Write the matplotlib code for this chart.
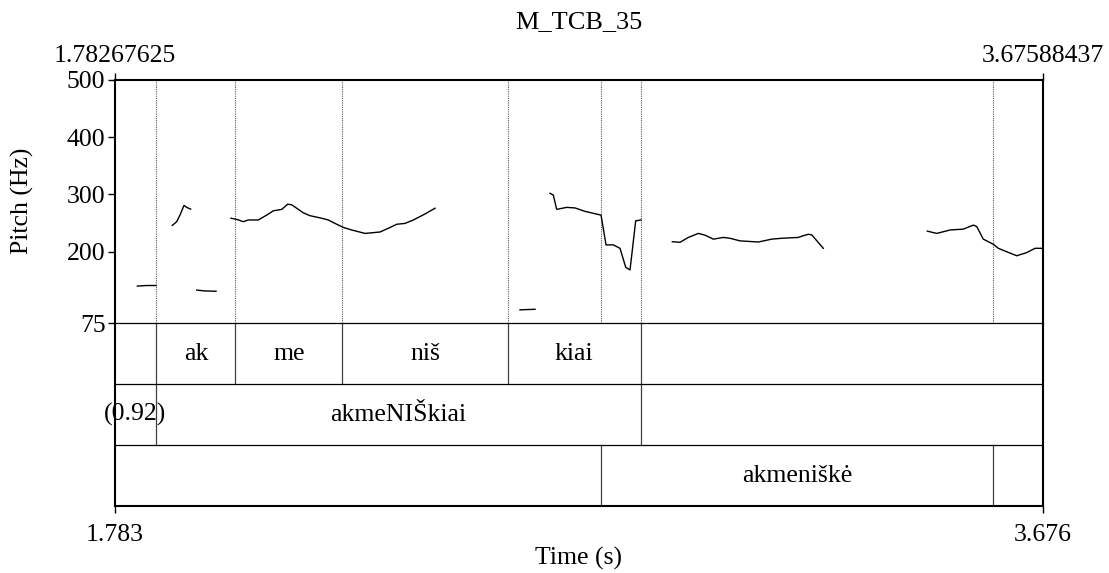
import numpy as np
import matplotlib
matplotlib.use("Agg")
import matplotlib.pyplot as plt

plt.rcParams['font.family'] = ['Liberation Serif', 'DejaVu Serif']

# ---- data -------------------------------------------------------------
title = "M_TCB_35"
T_START = 1.78267625
T_END = 3.67588437
PITCH_MIN, PITCH_MAX = 75, 500
pitch_ticks = [75, 200, 300, 400, 500]
top_tick_labels = ["1.78267625", "3.67588437"]
bottom_tick_labels = ["1.783", "3.676"]

# pitch contour (s, Hz), one list per voiced stretch
seg1_t = [1.8292, 1.8480, 1.8673]
seg1_hz = [140, 141, 141]

seg2_t = [1.9005, 1.9095, 1.9162, 1.9244, 1.9299, 1.9380]
seg2_hz = [246, 252.5, 264, 281, 277.5, 274.5]

seg3_t = [1.9503, 1.9672, 1.9897]
seg3_hz = [133, 131.5, 131]

seg4_t = [2.0202, 2.0319, 2.0453, 2.0555, 2.0759, 2.0930, 2.1065, 2.1236,
          2.1359, 2.1440, 2.1542, 2.1677, 2.1813, 2.2052, 2.2186, 2.2323,
          2.2492, 2.2664, 2.2935, 2.3241, 2.3410, 2.3581, 2.3750, 2.3920,
          2.4158, 2.4362]
seg4_hz = [258.5, 256.5, 252.5, 255.5, 255.5, 264, 271.5, 274, 283, 282,
           276, 268, 263, 258.5, 255.5, 249.5, 242.5, 238, 232, 234.5, 241,
           248, 249.5, 255.5, 266, 276]

seg5_t = [2.6095, 2.6401]
seg5_hz = [98.5, 99.5]

seg6_t = [2.6707, 2.6774, 2.6843, 2.7047, 2.7217, 2.7421, 2.7747, 2.7849,
          2.7997, 2.8134, 2.8250, 2.8338, 2.8454, 2.8562]
seg6_hz = [302, 299, 274, 277.5, 276.5, 270.5, 264, 212, 212, 206, 173,
           168, 254, 255.5]

seg7_t = [2.9201, 2.9358, 2.9527, 2.9731, 2.9867, 3.0037, 3.0240, 3.0377,
          3.0581, 3.0954, 3.1227, 3.1431, 3.1770, 3.1872, 3.1974, 3.2043,
          3.2279]
seg7_hz = [217.5, 216.5, 225, 232, 229, 222, 225, 223.5, 219, 217, 222,
           223.5, 225, 228, 230.5, 229.5, 206]

seg8_t = [3.4400, 3.4592, 3.4863, 3.5134, 3.5338, 3.5407, 3.5542, 3.5746,
          3.5848, 3.6019, 3.6223, 3.6427, 3.6596, 3.6733]
seg8_hz = [236, 232, 238, 239.5, 246.5, 244, 222, 213, 206, 200, 193,
           198.5, 206, 206]

segments_t = [seg1_t, seg2_t, seg3_t, seg4_t, seg5_t, seg6_t, seg7_t, seg8_t]
segments_hz = [seg1_hz, seg2_hz, seg3_hz, seg4_hz, seg5_hz, seg6_hz,
               seg7_hz, seg8_hz]

# annotation tiers: interval boundaries and labels
tier1_bounds = [1.8677, 2.0293, 2.2473, 2.5844, 2.8560]
tier1_labels = ["", "ak", "me", "niš", "kiai", ""]
tier2_bounds = [1.8677, 2.8560]
tier2_labels = ["(0.92)", "akmeNIŠkiai", ""]
tier3_bounds = [2.7745, 3.5740]
tier3_labels = ["", "akmeniškė", ""]

# ---- layout -----------------------------------------------------------
W, H = 1109, 573
FS = 18.5
fig = plt.figure(figsize=(W / 100, H / 100), dpi=100)

x0, x1 = 114.5, 1043.0
y_top, y_mid, y_bot = 80.0, 323.3, 506.0
axt = fig.add_axes([x0 / W, 1 - y_bot / H, (x1 - x0) / W, (y_bot - y_mid) / H])
ax = fig.add_axes([x0 / W, 1 - y_mid / H, (x1 - x0) / W, (y_mid - y_top) / H])
ax.patch.set_visible(False)
axt.patch.set_visible(False)

THICK = 1.5
THIN = 0.9

# ---- pitch panel ------------------------------------------------------
ax.set_xlim(T_START, T_END)
ax.set_ylim(PITCH_MIN, PITCH_MAX)

all_bounds = sorted(set(tier1_bounds + tier2_bounds + tier3_bounds))
for b in all_bounds:
    ax.axvline(b, color='0.35', lw=0.8, linestyle=(0, (1, 1)))

for t, hz in zip(segments_t, segments_hz):
    ax.plot(t, hz, color='black', lw=1.0, solid_joinstyle='miter')

for side in ['left', 'top', 'right']:
    ax.spines[side].set_linewidth(THICK)
ax.spines['bottom'].set_linewidth(THIN)
ax.spines['bottom'].set_color('black')

ax.set_yticks(pitch_ticks)
ax.set_yticklabels([str(v) for v in pitch_ticks])
ax.tick_params(axis='y', direction='out', length=5, width=1.0,
               labelsize=FS, pad=1.5)
ax.xaxis.tick_top()
ax.set_xticks([T_START, T_END])
ax.set_xticklabels(top_tick_labels)
ax.tick_params(axis='x', direction='out', length=5, width=1.0,
               labelsize=FS, pad=4)

# ---- annotation tiers -------------------------------------------------
axt.set_xlim(T_START, T_END)
axt.set_ylim(0, 3)

tiers = [(tier1_bounds, tier1_labels, 2), (tier2_bounds, tier2_labels, 1),
         (tier3_bounds, tier3_labels, 0)]
for bounds, labels, row in tiers:
    edges = [T_START] + bounds + [T_END]
    for b in bounds:
        axt.plot([b, b], [row, row + 1], color='0.25', lw=THIN)
    for (a, b), lab in zip(zip(edges[:-1], edges[1:]), labels):
        if lab:
            axt.text((a + b) / 2, row + 0.5, lab, ha='center', va='center',
                     fontsize=FS)
for yy in [1, 2]:
    axt.axhline(yy, color='black', lw=THIN)

for side in ['left', 'bottom', 'right']:
    axt.spines[side].set_linewidth(THICK)
axt.spines['top'].set_visible(False)

axt.set_yticks([])
axt.set_xticks([T_START, T_END])
axt.set_xticklabels(bottom_tick_labels)
axt.tick_params(axis='x', direction='out', length=5, width=1.0,
                labelsize=FS, pad=8)

# ---- labels -----------------------------------------------------------
fig.text((x0 + x1) / 2 / W, 1 - 22 / H, title, ha='center', va='center',
         fontsize=FS + 0.5)
fig.text(22 / W, 1 - 201 / H, "Pitch (Hz)", ha='center', va='center',
         rotation=90, fontsize=FS)
fig.text((x0 + x1) / 2 / W, 1 - 558 / H, "Time (s)", ha='center',
         va='center', fontsize=FS)

fig.savefig("out.png", dpi=100)
